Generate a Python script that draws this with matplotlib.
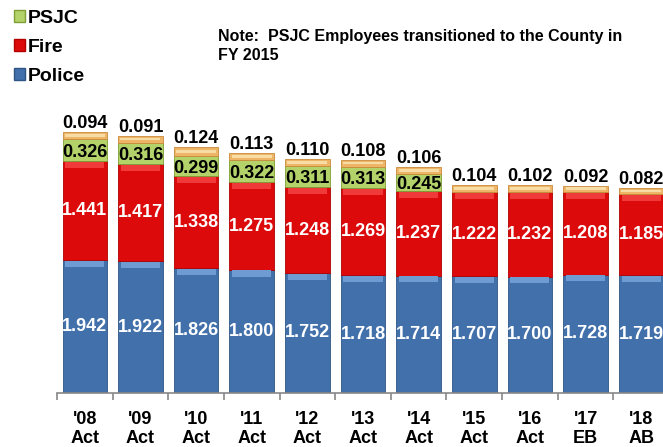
import matplotlib.pyplot as plt
from matplotlib.patches import Patch
import numpy as np

plt.rcParams['font.family'] = ['Liberation Sans', 'DejaVu Sans']

# --- data ---
categories = ["'08\nAct", "'09\nAct", "'10\nAct", "'11\nAct", "'12\nAct", "'13\nAct",
              "'14\nAct", "'15\nAct", "'16\nAct", "'17\nEB", "'18\nAB"]
police = [1.942, 1.922, 1.826, 1.800, 1.752, 1.718, 1.714, 1.707, 1.700, 1.728, 1.719]
fire = [1.441, 1.417, 1.338, 1.275, 1.248, 1.269, 1.237, 1.222, 1.232, 1.208, 1.185]
psjc = [0.326, 0.316, 0.299, 0.322, 0.311, 0.313, 0.245, 0, 0, 0, 0]
other = [0.094, 0.091, 0.124, 0.113, 0.110, 0.108, 0.106, 0.104, 0.102, 0.092, 0.082]

# colours
C_POLICE = '#4170aa'
C_POLICE_HI = '#6e9bd2'
C_FIRE = '#dc0a0a'
C_FIRE_HI = '#f03a3a'
C_PSJC = '#b3d36a'
C_PSJC_DK = '#7f9f34'
C_OTHER = '#efb567'
C_OTHER_HI = '#f8dca6'

fig = plt.figure(figsize=(6.63, 4.47), dpi=100)
# axis runs off the right edge like the source slide crop
ax = fig.add_axes([57 / 663, 1 - 393 / 447, 612 / 663, 274 / 447])

x = np.arange(len(categories))
w = 0.80
police = np.array(police)
fire = np.array(fire)
psjc = np.array(psjc)
other = np.array(other)

b1 = police
b2 = police + fire
b3 = b2 + psjc

ax.bar(x, police, w, color=C_POLICE, edgecolor='#2f5585', linewidth=0.6)
ax.bar(x, fire, w, bottom=b1, color=C_FIRE, edgecolor='#b00000', linewidth=0.6)
ax.bar(x, psjc, w, bottom=b2, color=C_PSJC, edgecolor=C_PSJC_DK, linewidth=0.6)
ax.bar(x, other, w, bottom=b3, color=C_OTHER, edgecolor='#c98a3a', linewidth=0.6)

# lighter bevel bands at the top of each segment
band = 0.09
ax.bar(x, band, w * 0.88, bottom=b1 - band - 0.01, color=C_POLICE_HI, linewidth=0)
ax.bar(x, band, w * 0.88, bottom=b2 - band - 0.01, color=C_FIRE_HI, linewidth=0)
ax.bar(x, other * 0.35, w * 0.9, bottom=b3 + other * 0.35, color=C_OTHER_HI, linewidth=0)

lab = dict(ha='center', va='center', fontsize=13, fontweight='bold')
for i in x:
    ax.text(i, police[i] / 2, f'{police[i]:.3f}', color='white', **lab)
    ax.text(i, b1[i] + fire[i] / 2, f'{fire[i]:.3f}', color='white', **lab)
    if psjc[i] > 0:
        ax.text(i, b2[i] + psjc[i] / 2 - 0.03, f'{psjc[i]:.3f}', color='black', **lab)
    ax.text(i, b3[i] + other[i] + 0.0, f'{other[i]:.3f}', color='black',
            ha='center', va='bottom', fontsize=13, fontweight='bold')

ax.set_xlim(-0.5, len(categories) - 0.5)
ax.set_ylim(0, 4.0)
ax.set_yticks([])
for s in ['top', 'right', 'left']:
    ax.spines[s].set_visible(False)
ax.spines['bottom'].set_color('#888888')
ax.spines['bottom'].set_linewidth(1.2)
ax.set_xticks(x)
ax.set_xticklabels(categories, fontsize=13, fontweight='bold', linespacing=1.15)
ax.set_xticks(np.arange(len(categories) + 1) - 0.5, minor=True)
ax.tick_params(axis='x', which='major', length=0, pad=13)
ax.tick_params(axis='x', which='minor', length=5, color='#888888', width=1.2)

handles = [Patch(facecolor=C_PSJC, edgecolor=C_PSJC_DK, label='PSJC'),
           Patch(facecolor=C_FIRE, edgecolor='#b00000', label='Fire'),
           Patch(facecolor=C_POLICE, edgecolor='#2f5585', label='Police')]
fig.legend(handles=handles, loc='upper left', bbox_to_anchor=(14 / 663, 1 - 10 / 447),
           frameon=False, prop={'size': 14, 'weight': 'bold'},
           borderpad=0, borderaxespad=0,
           handlelength=0.55, handleheight=0.55, handletextpad=0.15, labelspacing=0.62)

fig.text(218 / 663, 1 - 29 / 447, 'Note:  PSJC Employees transitioned to the County in\nFY 2015',
         ha='left', va='top', fontsize=11.5, fontweight='bold', linespacing=1.3)

fig.savefig('out.png', dpi=100)
